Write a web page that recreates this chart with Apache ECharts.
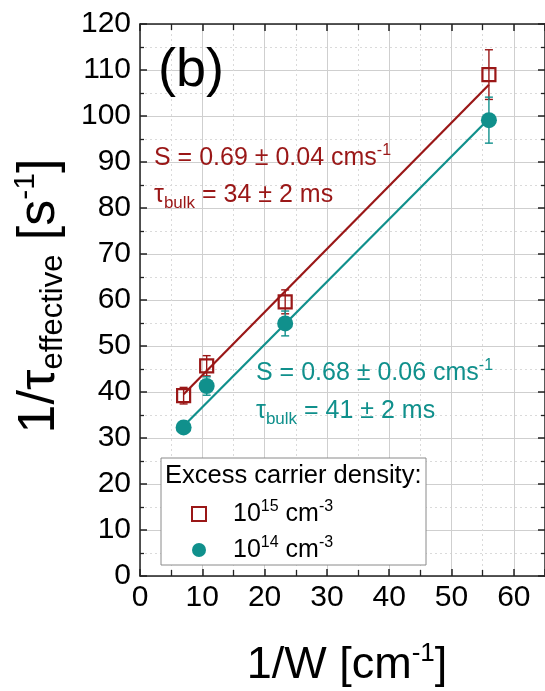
<!DOCTYPE html>
<html>
<head>
<meta charset="utf-8">
<script src="https://cdn.jsdelivr.net/npm/echarts@6/dist/echarts.min.js"></script>
<style>
  html, body { margin: 0; padding: 0; background: #fff; }
  #chart { width: 545px; height: 691px; }
</style>
</head>
<body>
<div id="chart"></div>
<script>
// Inverse sample thickness 1/W [cm^-1]
const invW = [7, 10.7, 23.3, 56];

// 1/tau_effective [s^-1] at excess carrier density 1e15 cm^-3
const rateHigh = [39.2, 45.7, 59.6, 109.0];
const errHigh  = [1.8, 2.2, 2.6, 5.4];

// 1/tau_effective [s^-1] at excess carrier density 1e14 cm^-3
const rateLow = [32.3, 41.3, 54.9, 99.1];
const errLow  = [1.0, 2.0, 2.7, 5.0];

// Linear fits (end points)
const fitHighX = [7, 56];
const fitHighY = [39.5, 106.8];
const fitLowX  = [7, 56];
const fitLowY  = [32.6, 99.4];

// Tick labels
const xTicks = [0, 10, 20, 30, 40, 50, 60];
const yTicks = [0, 10, 20, 30, 40, 50, 60, 70, 80, 90, 100, 110, 120];

const RED = '#9a1717';
const TEAL = '#10908c';
const FONT = '"Liberation Sans", Arial, Helvetica, sans-serif';

const chart = echarts.init(document.getElementById('chart'), null, { renderer: 'canvas' });

function errorBars(color) {
  return function (params, api) {
    const x = api.value(0), y = api.value(1), e = api.value(2);
    const top = api.coord([x, y + e]);
    const bot = api.coord([x, y - e]);
    const cap = 4;
    const st = { stroke: color, lineWidth: 1.4 };
    return {
      type: 'group',
      children: [
        { type: 'line', shape: { x1: top[0], y1: top[1], x2: bot[0], y2: bot[1] }, style: st },
        { type: 'line', shape: { x1: top[0] - cap, y1: top[1], x2: top[0] + cap, y2: top[1] }, style: st },
        { type: 'line', shape: { x1: bot[0] - cap, y1: bot[1], x2: bot[0] + cap, y2: bot[1] }, style: st }
      ]
    };
  };
}

const pairs = (xs, ys) => xs.map((x, i) => [x, ys[i]]);
const triples = (xs, ys, es) => xs.map((x, i) => [x, ys[i], es[i]]);

const axisLineStyle = { color: '#222', width: 1.5 };

const baseX = {
  type: 'value', min: 0, max: 65, interval: 10,
  axisLine: { show: true, onZero: false, lineStyle: axisLineStyle },
  axisTick: { show: true, inside: true, length: 7, lineStyle: { color: '#222', width: 1.5 } },
  minorTick: { show: true, splitNumber: 2, length: 6, lineStyle: { color: '#222', width: 1.3 } }
};
const baseY = {
  type: 'value', min: 0, max: 120, interval: 10,
  axisLine: { show: true, onZero: false, lineStyle: axisLineStyle },
  axisTick: { show: true, inside: true, length: 7, lineStyle: { color: '#222', width: 1.5 } },
  minorTick: { show: true, splitNumber: 2, length: 4, lineStyle: { color: '#222', width: 1.3 } }
};

const legendRich = {
  g: { width: 22, fontSize: 25, lineHeight: 30 },
  n: { fontSize: 25, lineHeight: 30, color: '#000', fontFamily: FONT },
  s: { fontSize: 16, lineHeight: 16, color: '#000', fontFamily: FONT, verticalAlign: 'top' }
};

const option = {
  backgroundColor: '#fff',
  animation: false,
  textStyle: { fontFamily: FONT },
  grid: { left: 140, top: 24, right: -5, bottom: 115, containLabel: false },
  xAxis: [
    Object.assign({}, baseX, {
      position: 'bottom',
      axisLabel: {
        show: true, fontSize: 30, color: '#000', margin: 7, fontFamily: FONT,
        showMaxLabel: false,
        formatter: v => (xTicks.indexOf(v) >= 0 ? String(v) : '')
      },
      splitLine: { show: true, lineStyle: { color: '#cfcfcf', width: 1 } },
      minorSplitLine: { show: true, lineStyle: { color: '#dadada', width: 1, type: [2, 3] } }
    }),
    Object.assign({}, baseX, {
      position: 'top',
      axisLabel: { show: false },
      splitLine: { show: false }
    })
  ],
  yAxis: [
    Object.assign({}, baseY, {
      position: 'left',
      axisLabel: {
        show: true, fontSize: 30, color: '#000', margin: 9, fontFamily: FONT,
        formatter: v => (yTicks.indexOf(v) >= 0 ? String(v) : '')
      },
      splitLine: { show: true, lineStyle: { color: '#cfcfcf', width: 1 } },
      minorSplitLine: { show: true, lineStyle: { color: '#dadada', width: 1, type: [2, 3] } }
    }),
    Object.assign({}, baseY, {
      position: 'right',
      axisLabel: { show: false },
      splitLine: { show: false }
    })
  ],
  legend: {
    data: ['1e15', '1e14'],
    orient: 'vertical',
    left: 186, top: 494,
    itemWidth: 14, itemHeight: 14,
    itemGap: 6,
    z: 10,
    textStyle: {
      fontFamily: FONT, fontSize: 25, color: '#000', lineHeight: 30,
      rich: legendRich
    },
    formatter: name => name === '1e15'
      ? '{g| }{n|10}{s|15}{n| cm}{s|-3}'
      : '{g| }{n|10}{s|14}{n| cm}{s|-3}'
  },
  graphic: [
    // legend frame and heading
    { type: 'rect', z: 5, shape: { x: 161, y: 458, width: 265, height: 107 },
      style: { fill: '#fff', stroke: '#8a8a8a', lineWidth: 1 } },
    { type: 'text', z: 6, x: 165, y: 476,
      style: { text: 'Excess carrier density:', fontSize: 25.5, fontFamily: FONT, fill: '#000',
               align: 'left', verticalAlign: 'middle' } },
    // panel label
    { type: 'text', z: 6, x: 158, y: 71,
      style: { text: '(b)', fontSize: 54, fontFamily: FONT, fill: '#000',
               align: 'left', verticalAlign: 'middle' } },
    // fit results, 1e15 cm^-3
    { type: 'text', z: 6, x: 154, y: 158,
      style: {
        text: '{m|S = 0.69 \u00b1 0.04 cms}{p|-1}', align: 'left', verticalAlign: 'middle',
        rich: {
          m: { fontSize: 25, lineHeight: 30, fill: RED, fontFamily: FONT },
          p: { fontSize: 16, lineHeight: 16, fill: RED, fontFamily: FONT, verticalAlign: 'top' }
        }
      } },
    { type: 'text', z: 6, x: 154, y: 195,
      style: {
        text: '{m|\u03c4}{b|bulk}{m| = 34 \u00b1 2 ms}', align: 'left', verticalAlign: 'middle',
        rich: {
          m: { fontSize: 25, lineHeight: 34, fill: RED, fontFamily: FONT },
          b: { fontSize: 17, lineHeight: 17, fill: RED, fontFamily: FONT, verticalAlign: 'bottom' }
        }
      } },
    // fit results, 1e14 cm^-3
    { type: 'text', z: 6, x: 256, y: 373,
      style: {
        text: '{m|S = 0.68 \u00b1 0.06 cms}{p|-1}', align: 'left', verticalAlign: 'middle',
        rich: {
          m: { fontSize: 25, lineHeight: 30, fill: TEAL, fontFamily: FONT },
          p: { fontSize: 16, lineHeight: 16, fill: TEAL, fontFamily: FONT, verticalAlign: 'top' }
        }
      } },
    { type: 'text', z: 6, x: 256, y: 411,
      style: {
        text: '{m|\u03c4}{b|bulk}{m| = 41 \u00b1 2 ms}', align: 'left', verticalAlign: 'middle',
        rich: {
          m: { fontSize: 25, lineHeight: 34, fill: TEAL, fontFamily: FONT },
          b: { fontSize: 17, lineHeight: 17, fill: TEAL, fontFamily: FONT, verticalAlign: 'bottom' }
        }
      } },
    // axis titles
    { type: 'text', z: 6, x: 347, y: 666,
      style: {
        text: '{m|1/W [cm}{p|-1}{m|]}', align: 'center', verticalAlign: 'middle',
        rich: {
          m: { fontSize: 45, lineHeight: 50, fill: '#000', fontFamily: FONT },
          p: { fontSize: 26, lineHeight: 26, fill: '#000', fontFamily: FONT, verticalAlign: 'top' }
        }
      } },
    { type: 'text', z: 6, x: 40, y: 296, rotation: Math.PI / 2,
      style: {
        text: '{m|1/\u03c4}{b|effective}{m| [s}{p|-1}{m|]}', align: 'center', verticalAlign: 'middle',
        rich: {
          m: { fontSize: 52, lineHeight: 58, fill: '#000', fontFamily: FONT },
          b: { fontSize: 31, lineHeight: 31, fill: '#000', fontFamily: FONT, verticalAlign: 'bottom' },
          p: { fontSize: 30, lineHeight: 30, fill: '#000', fontFamily: FONT, verticalAlign: 'top' }
        }
      } }
  ],
  series: [
    { type: 'custom', name: 'err15', renderItem: errorBars(RED), z: 3,
      data: triples(invW, rateHigh, errHigh), encode: { x: 0, y: 1 } },
    { type: 'custom', name: 'err14', renderItem: errorBars(TEAL), z: 3,
      data: triples(invW, rateLow, errLow), encode: { x: 0, y: 1 } },
    { type: 'line', name: 'fit15', data: pairs(fitHighX, fitHighY), showSymbol: false, symbol: 'none',
      lineStyle: { color: RED, width: 2.2 }, z: 4, silent: true },
    { type: 'line', name: 'fit14', data: pairs(fitLowX, fitLowY), showSymbol: false, symbol: 'none',
      lineStyle: { color: TEAL, width: 2.2 }, z: 4, silent: true },
    { type: 'scatter', name: '1e15', data: pairs(invW, rateHigh), symbol: 'rect', symbolSize: 13, z: 5,
      itemStyle: { color: 'rgba(255,255,255,0)', borderColor: RED, borderWidth: 2.2, opacity: 1 } },
    { type: 'scatter', name: '1e14', data: pairs(invW, rateLow), symbol: 'circle', symbolSize: 16, z: 5,
      itemStyle: { color: TEAL, opacity: 1 } }
  ]
};

chart.setOption(option);
</script>
</body>
</html>
